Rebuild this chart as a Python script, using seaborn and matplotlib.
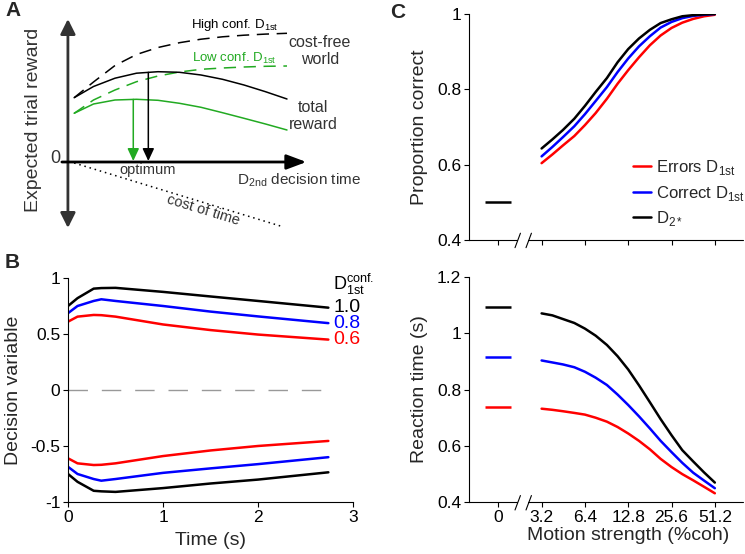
import numpy as np
import seaborn as sns
import matplotlib.pyplot as plt
from matplotlib import transforms

# ---------------- panel A: schematic (time 0..1, reward units) ----------------
a_time = [0.01, 0.1, 0.2, 0.3, 0.4, 0.5, 0.6, 0.7, 0.8, 0.9, 1.0]
a_high_free = [0.643, 0.80, 0.965, 1.075, 1.145, 1.193, 1.228, 1.252, 1.268, 1.279, 1.287]
a_high_total = [0.643, 0.755, 0.838, 0.888, 0.903, 0.897, 0.870, 0.827, 0.770, 0.703, 0.630]
a_low_free = [0.487, 0.620, 0.720, 0.803, 0.860, 0.900, 0.927, 0.940, 0.950, 0.957, 0.960]
a_low_total = [0.487, 0.580, 0.620, 0.627, 0.617, 0.587, 0.547, 0.493, 0.437, 0.380, 0.320]
a_cost_time = [0.01, 0.98]
a_cost = [-0.01, -0.647]
a_opt_high = 0.355
a_opt_low = 0.285

# ---------------- panel B: decision variable vs time ----------------
b_time = [0, 0.1, 0.27, 0.35, 0.5, 1.0, 1.5, 2.0, 2.74]
b_conf_labels = ["1.0", "0.8", "0.6"]
b_upper = {
    "1.0": [0.75, 0.82, 0.905, 0.91, 0.912, 0.876, 0.835, 0.795, 0.735],
    "0.8": [0.686, 0.75, 0.795, 0.81, 0.795, 0.75, 0.70, 0.657, 0.597],
    "0.6": [0.61, 0.655, 0.67, 0.668, 0.655, 0.585, 0.535, 0.495, 0.45],
}
b_lower = {
    "1.0": [-0.75, -0.82, -0.90, -0.905, -0.91, -0.876, -0.835, -0.80, -0.735],
    "0.8": [-0.686, -0.75, -0.795, -0.81, -0.795, -0.74, -0.70, -0.662, -0.60],
    "0.6": [-0.61, -0.655, -0.67, -0.668, -0.655, -0.59, -0.54, -0.50, -0.455],
}

# ---------------- panel C: accuracy and RT vs motion strength ----------------
coh_ticks = [0, 3.2, 6.4, 12.8, 25.6, 51.2]
coh_tick_labels = ["0", "3.2", "6.4", "12.8", "25.6", "51.2"]
coh_curve = [3.2, 3.8, 4.5, 5.4, 6.4, 7.6, 9.1, 10.8, 12.8,
             15.2, 18.1, 21.5, 25.6, 30.4, 36.2, 43.1, 51.2]
c_series = ["Errors", "Correct", "D2"]
c_legend = [r"Errors D$_{\mathregular{1st}}$", r"Correct D$_{\mathregular{1st}}$",
            r"D$_{\mathregular{2*}}$"]
c_pcorr = {
    "Errors": [0.604, 0.627, 0.651, 0.676, 0.705, 0.737, 0.775, 0.815, 0.851,
               0.885, 0.917, 0.943, 0.963, 0.977, 0.987, 0.994, 0.998],
    "Correct": [0.622, 0.647, 0.673, 0.702, 0.734, 0.769, 0.806, 0.846, 0.882,
                0.914, 0.941, 0.964, 0.979, 0.989, 0.995, 0.998, 1.0],
    "D2": [0.643, 0.667, 0.692, 0.722, 0.756, 0.793, 0.830, 0.872, 0.907,
           0.935, 0.958, 0.976, 0.986, 0.994, 0.997, 0.999, 1.0],
}
c_rt = {
    "Errors": [0.732, 0.728, 0.723, 0.717, 0.711, 0.700, 0.686, 0.667, 0.644,
               0.618, 0.588, 0.554, 0.525, 0.500, 0.478, 0.455, 0.432],
    "Correct": [0.903, 0.896, 0.889, 0.879, 0.863, 0.842, 0.816, 0.782, 0.745,
                0.705, 0.662, 0.618, 0.578, 0.540, 0.505, 0.477, 0.450],
    "D2": [1.070, 1.063, 1.050, 1.036, 1.016, 0.991, 0.958, 0.918, 0.871,
           0.815, 0.755, 0.695, 0.638, 0.585, 0.545, 0.506, 0.470],
}
c_pcorr_zero = {"D2": 0.5}
c_rt_zero = {"Errors": 0.739, "Correct": 0.916, "D2": 1.094}

colors = {"1.0": "black", "0.8": "#0000ff", "0.6": "#ff0000",
          "Errors": "#ff0000", "Correct": "#0000ff", "D2": "black"}
green = "#22aa22"
dark = "#333333"


def coh_pos(c):
    """Log2-spaced position on the coherence axis, with 0% coh at position 0."""
    c = np.asarray(c, dtype=float)
    return np.where(c > 0, np.log2(np.maximum(c, 1e-9) / 3.2) + 1, 0.0)


sns.set_style("ticks")
plt.rcParams["font.family"] = ["Liberation Sans", "DejaVu Sans"]
plt.rcParams["mathtext.fontset"] = "custom"
plt.rcParams["mathtext.rm"] = "Liberation Sans"
plt.rcParams["axes.unicode_minus"] = False
plt.rcParams["axes.linewidth"] = 0.8
plt.rcParams["axes.edgecolor"] = "black"

fig = plt.figure(figsize=(7.45, 5.54), dpi=100)

# ---------------- A ----------------
axa = fig.add_axes([0, 0.5343, 0.4832, 0.4657])
axa.set_xlim(-0.3349, 1.3395)
axa.set_ylim(-0.96, 1.62)
axa.axis("off")

sns.lineplot(x=a_time, y=a_high_free, ax=axa, color="black", linewidth=1.1)
axa.lines[-1].set_dashes((8, 5))
sns.lineplot(x=a_time, y=a_low_free, ax=axa, color=green, linewidth=1.1)
axa.lines[-1].set_dashes((8, 5))
sns.lineplot(x=a_time, y=a_high_total, ax=axa, color="black", linewidth=1.1)
sns.lineplot(x=a_time, y=a_low_total, ax=axa, color=green, linewidth=1.1)
axa.plot(a_cost_time, a_cost, color="black", linewidth=1.1, linestyle=(0, (1, 2.5)))

# axes arrows
axa.annotate("", xy=(-0.019, 1.43), xytext=(-0.019, -0.66),
             arrowprops=dict(arrowstyle="<|-|>,head_length=0.6,head_width=0.3",
                             mutation_scale=15, color=dark, lw=2, shrinkA=0, shrinkB=0))
axa.annotate("", xy=(1.09, 0), xytext=(-0.047, 0),
             arrowprops=dict(arrowstyle="-|>,head_length=0.8,head_width=0.3",
                             mutation_scale=15, color="black", lw=2, shrinkA=0, shrinkB=0))
# optimum arrows
for t_opt, curve, col in [(a_opt_high, a_high_total, "black"), (a_opt_low, a_low_total, green)]:
    top = np.interp(t_opt, a_time, curve)
    axa.annotate("", xy=(t_opt, 0.01), xytext=(t_opt, top),
                 arrowprops=dict(arrowstyle="-|>,head_length=0.75,head_width=0.35",
                                 mutation_scale=10, color=col, lw=1.1, shrinkA=0, shrinkB=0))

axa.text(-0.079, 0.03, "0", ha="center", va="center", fontsize=13, color=dark)
axa.text(-0.177, 0.42, "Expected trial reward", rotation=90, ha="center", va="center",
         fontsize=14, color=dark)
axa.text(0.353, -0.08, "optimum", ha="center", va="center", fontsize=10.5, color=dark)
axa.text(0.767, -0.18, r"D$_{\mathregular{2nd}}$ decision time", ha="left", va="center",
         fontsize=11, color=dark)
axa.text(0.609, -0.48, "cost of time", ha="center", va="center", rotation=-17,
         fontsize=10.5, color=dark)
axa.text(0.758, 1.37, r"High conf. D$_{\mathregular{1st}}$", ha="center", va="center",
         fontsize=9.5, color="black")
axa.text(0.753, 1.04, r"Low conf. D$_{\mathregular{1st}}$", ha="center", va="center",
         fontsize=9.5, color=green)
axa.text(1.153, 1.11, "cost-free\nworld", ha="center", va="center", fontsize=11.5,
         color=dark, linespacing=1.15)
axa.text(1.121, 0.46, "total\nreward", ha="center", va="center", fontsize=11.5,
         color=dark, linespacing=1.15)

# ---------------- B ----------------
axb = fig.add_axes([0.0913, 0.0939, 0.3826, 0.4043])
for lab in b_conf_labels:
    sns.lineplot(x=b_time, y=b_upper[lab], ax=axb, color=colors[lab], linewidth=1.8)
    sns.lineplot(x=b_time, y=b_lower[lab], ax=axb, color=colors[lab], linewidth=1.8)
    axb.text(b_time[-1] + 0.05, b_upper[lab][-1], lab, color=colors[lab], fontsize=14,
             ha="left", va="center", clip_on=False)
axb.plot([b_time[0], b_time[-1]], [0, 0], color="#999999", linewidth=1,
         linestyle=(0, (14, 10)))
axb.text(b_time[-1] + 0.05, 0.94, r"D$^{\mathregular{conf.}}_{\mathregular{1st}}$",
         color="black", fontsize=13, ha="left", va="center", clip_on=False)
axb.set_xlim(0, 3)
axb.set_ylim(-1, 1)
axb.set_xticks([0, 1, 2, 3])
axb.set_yticks([-1, -0.5, 0, 0.5, 1])
axb.set_yticklabels(["-1", "-0.5", "0", "0.5", "1"])
axb.set_xlabel("Time (s)", fontsize=14)
axb.set_ylabel("Decision variable", fontsize=14)
axb.xaxis.set_label_coords(0.5, -0.135)
axb.yaxis.set_label_coords(-0.16, 0.5)
sns.despine(ax=axb)

# ---------------- C ----------------
axc1 = fig.add_axes([0.6295, 0.5668, 0.3678, 0.4079])
axc2 = fig.add_axes([0.6295, 0.0933, 0.3678, 0.4072])
pos_curve = coh_pos(coh_curve)
pos_zero = float(coh_pos([0])[0])
bar_half = 0.3

for s, lab in zip(c_series, c_legend):
    sns.lineplot(x=pos_curve, y=c_pcorr[s], ax=axc1, color=colors[s], linewidth=1.8, label=lab)
    sns.lineplot(x=pos_curve, y=c_rt[s], ax=axc2, color=colors[s], linewidth=1.8)
for s, v in c_pcorr_zero.items():
    axc1.hlines(v, pos_zero - bar_half, pos_zero + bar_half, color=colors[s], linewidth=1.8)
for s, v in c_rt_zero.items():
    axc2.hlines(v, pos_zero - bar_half, pos_zero + bar_half, color=colors[s], linewidth=1.8)

axc1.set_ylim(0.4, 1.0)
axc1.set_yticks([0.4, 0.6, 0.8, 1.0])
axc1.set_yticklabels(["0.4", "0.6", "0.8", "1"])
axc2.set_ylim(0.4, 1.2)
axc2.set_yticks([0.4, 0.6, 0.8, 1.0, 1.2])
axc2.set_yticklabels(["0.4", "0.6", "0.8", "1", "1.2"])
for ax in (axc1, axc2):
    ax.set_xlim(-0.677, 5.65)
    ax.set_xticks(coh_pos(coh_ticks))
    sns.despine(ax=ax)
    ax.spines["bottom"].set_visible(False)
    tr = transforms.blended_transform_factory(ax.transData, ax.transAxes)
    # broken x axis
    ax.plot([-0.677, 0.44], [0, 0], color="black", lw=0.8, transform=tr, clip_on=False)
    ax.plot([0.69, 5.65], [0, 0], color="black", lw=0.8, transform=tr, clip_on=False)
    for x0 in (0.386, 0.64):
        ax.plot([x0, x0 + 0.125], [-0.034, 0.03], color="black", lw=0.8,
                transform=tr, clip_on=False)
axc1.set_xticklabels([])
axc2.set_xticklabels(coh_tick_labels)
axc1.set_xlabel("")
axc1.set_ylabel("Proportion correct", fontsize=14)
axc2.set_ylabel("Reaction time (s)", fontsize=14)
axc2.set_xlabel("Motion strength (%coh)", fontsize=14)
axc1.yaxis.set_label_coords(-0.15, 0.5)
axc2.yaxis.set_label_coords(-0.15, 0.5)
axc2.xaxis.set_label_coords(0.58, -0.11)
axc1.legend(loc="upper left", bbox_to_anchor=(0.6, 0.362), frameon=False, fontsize=12,
            handlelength=1.05, handletextpad=0.3, labelspacing=0.38, borderpad=0,
            borderaxespad=0)

for ax in (axb, axc1, axc2):
    ax.tick_params(direction="out", length=3.5, width=0.8, labelsize=12.5, pad=2,
                   colors="black")

fig.text(5 / 745, 1 - 11 / 554, "A", fontsize=15, fontweight="bold", va="center")
fig.text(5 / 745, 1 - 263 / 554, "B", fontsize=15, fontweight="bold", va="center")
fig.text(390 / 745, 1 - 12 / 554, "C", fontsize=15, fontweight="bold", va="center")

fig.savefig("out.png", dpi=100)
